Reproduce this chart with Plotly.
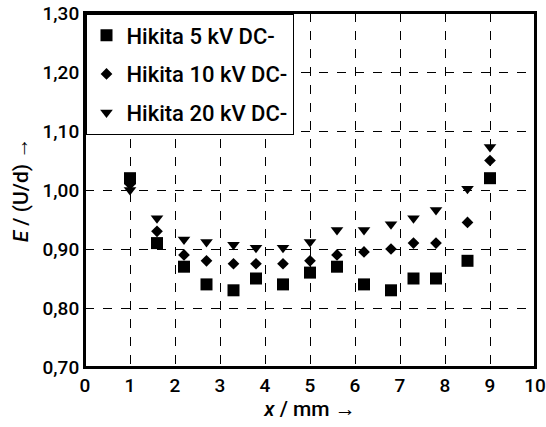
import plotly.graph_objects as go

x_mm = [1.0, 1.6, 2.2, 2.7, 3.3, 3.8, 4.4, 5.0, 5.6, 6.2, 6.8, 7.3, 7.8, 8.5, 9.0]
e_5kv = [1.02, 0.91, 0.87, 0.84, 0.83, 0.85, 0.84, 0.86, 0.87, 0.84, 0.83, 0.85, 0.85, 0.88, 1.02]
e_10kv = [1.01, 0.93, 0.89, 0.88, 0.875, 0.875, 0.875, 0.88, 0.89, 0.895, 0.90, 0.91, 0.91, 0.945, 1.05]
e_20kv = [1.00, 0.952, 0.916, 0.912, 0.907, 0.902, 0.902, 0.912, 0.932, 0.932, 0.942, 0.952, 0.966, 1.002, 1.073]
names = ["Hikita 5 kV DC-", "Hikita 10 kV DC-", "Hikita 20 kV DC-"]

FONT = "Roboto"
fig = go.Figure()
series = [(e_5kv, "square", 12), (e_10kv, "diamond", 9), (e_20kv, "triangle-down", 11)]
for i, (ys, sym, sz) in enumerate(series):
    fig.add_trace(go.Scatter(
        x=x_mm, y=ys, mode="markers", name=names[i], legendgroup=f"g{i}",
        marker=dict(symbol=sym, size=sz, color="black", line=dict(width=0)),
    ))

# plot frame
fig.add_shape(type="rect", xref="paper", yref="paper", x0=0, x1=1, y0=0, y1=1,
              line=dict(color="black", width=2), layer="above")

fig.update_layout(
    width=546, height=427,
    margin=dict(l=85, r=11, t=13, b=60),
    plot_bgcolor="white", paper_bgcolor="white",
    separators=", ",
    font=dict(family=FONT, size=19, color="black", weight=500),
    legend=dict(
        x=0, y=1, xanchor="left", yanchor="top",
        bordercolor="black", borderwidth=1.5, bgcolor="white",
        font=dict(family=FONT, size=22, color="black", weight=500),
        tracegroupgap=7, itemwidth=30,
    ),
    xaxis=dict(
        range=[0, 10], dtick=1, tick0=0, automargin=False, ticklabeloverflow="allow",
        showline=True, linecolor="black", linewidth=2, mirror=True,
        showgrid=True, gridcolor="black", gridwidth=1, griddash="dash",
        ticks="", zeroline=False,
        title=dict(text="<i>x</i> / mm →", standoff=2, font=dict(size=21)),
    ),
    yaxis=dict(
        range=[0.70, 1.30], dtick=0.1, tick0=0.7, tickformat=".2f", automargin=False,
        ticklabeloverflow="allow",
        showline=True, linecolor="black", linewidth=2, mirror=True,
        showgrid=True, gridcolor="black", gridwidth=1, griddash="dash",
        ticks="inside", ticklen=4, tickcolor="black", zeroline=False,
        title=dict(text="<i>E</i> / (U/d) →", standoff=8, font=dict(size=21)),
    ),
)

fig.write_html("out.html")
